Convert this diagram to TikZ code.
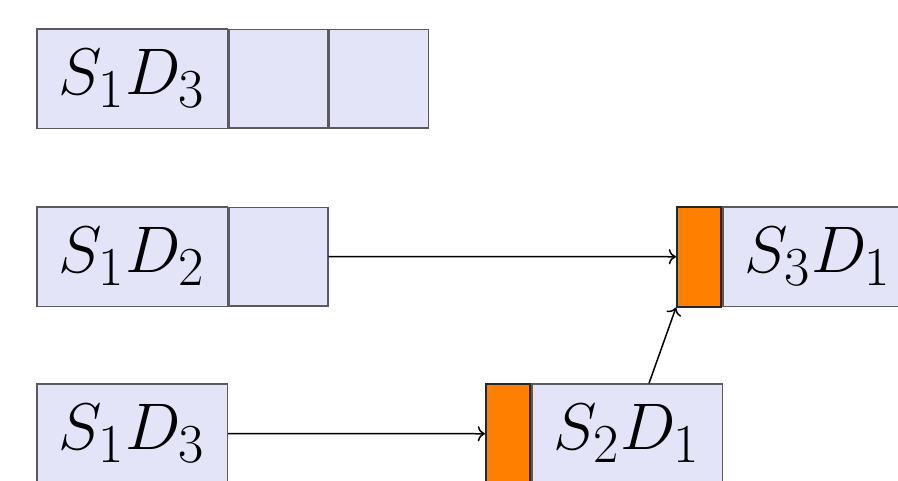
\documentclass[tikz,border=0pt]{standalone}
\usepackage{graphicx}
\usetikzlibrary{arrows.meta}
\definecolor{cellfill}{RGB}{228,228,248}
\definecolor{cellline}{RGB}{90,90,95}
\definecolor{slotfill}{RGB}{255,128,0}
% entry label, set a little larger than \Huge
\newcommand{\entrylabel}[1]{\scalebox{1.06}{$#1$}}
\begin{document}
\begin{tikzpicture}[x=0.4pt,y=-0.4pt,
  mainbox/.style={draw=cellline, fill=cellfill, line width=0.6pt, inner sep=0pt,
    minimum width=76.2pt, minimum height=39.8pt, font=\Huge},
  cellbox/.style={draw=cellline, fill=cellfill, line width=0.6pt, inner sep=0pt,
    minimum width=39.6pt, minimum height=39.4pt},
  slotbox/.style={draw=black!85, fill=slotfill, line width=0.8pt, inner sep=0pt,
    minimum width=17.6pt, minimum height=39.8pt},
  link/.style={->, line width=0.6pt}]
\useasboundingbox (0,0) rectangle (898,480);

% first queue: one occupied entry followed by two empty cells
\node[mainbox, anchor=north west] (q1) at (36,28) {\entrylabel{S_1D_3}};
\node[cellbox, anchor=west] (q1a) at (q1.east) {};
\node[cellbox, anchor=west] (q1b) at (q1a.east) {};

% second queue
\node[mainbox, anchor=north west] (q2) at (36,206) {\entrylabel{S_1D_2}};
\node[cellbox, anchor=west] (q2a) at (q2.east) {};

% third queue
\node[mainbox, anchor=north west] (q3) at (36,383) {\entrylabel{S_1D_3}};

% downstream entries with their orange slots
\node[slotbox, anchor=north west] (o3) at (676,206) {};
\node[mainbox, anchor=west] (r3) at (o3.east) {\entrylabel{S_3D_1}};
\node[slotbox] at (o3.center) {};

\node[slotbox, anchor=north west] (o2) at (485,383) {};
\node[mainbox, anchor=west] (r2) at (o2.east) {\entrylabel{S_2D_1}};
\node[slotbox] at (o2.center) {};

% connections
\draw[link] (q2a.east) -- (o3.west);
\draw[link] (q3.east) -- (o2.west);
\coordinate (up) at ([xshift=8.8pt]r2.north);
\draw[link] (up) -- (o3.south west);
\end{tikzpicture}
\end{document}
